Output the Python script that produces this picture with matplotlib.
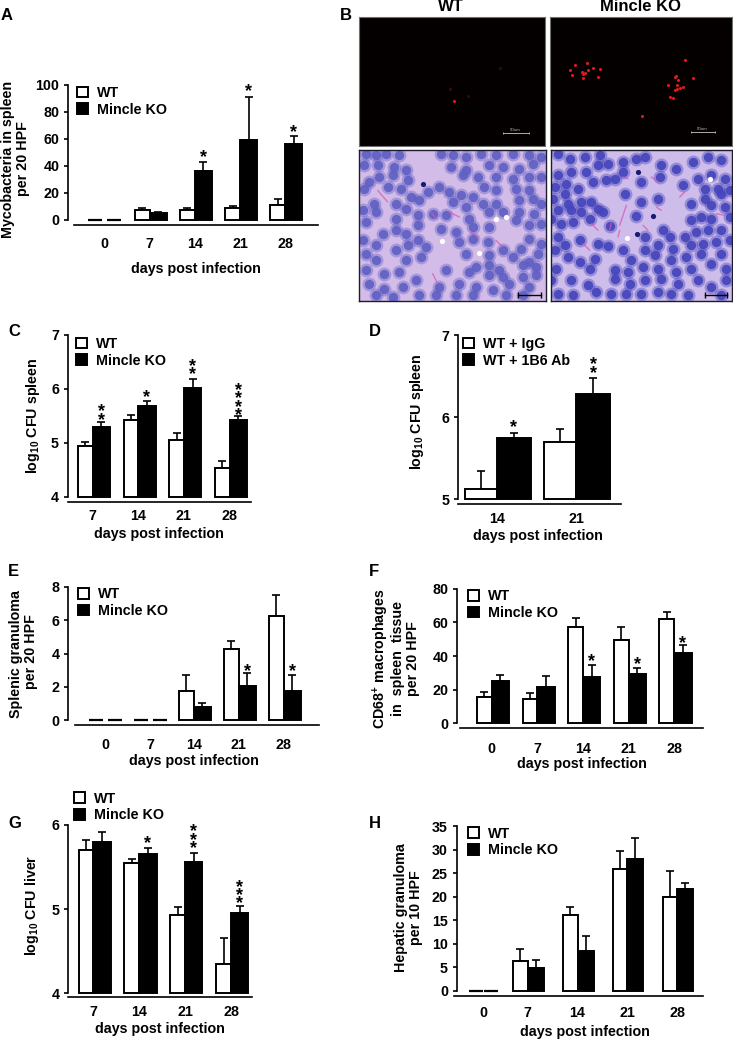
import numpy as np
import matplotlib
matplotlib.use('Agg')
import matplotlib.pyplot as pl
from matplotlib.transforms import Affine2D

W, H = 733, 1040
pl.rcParams['font.family'] = ['Liberation Sans', 'DejaVu Sans']
pl.rcParams['font.weight'] = 'bold'
pl.rcParams['mathtext.default'] = 'regular'
FS = 10.3

#---------------- values ----------------
a_days = ['0', '7', '14', '21', '28']
a_wt = [0, 7.2, 7.4, 8.7, 10.6]
a_wt_top = [0, 9, 8.7, 10, 15.3]
a_ko = [0, 5.2, 36, 59, 56.4]
a_ko_top = [0, 5.7, 42.6, 91.3, 62]
a_stars = [0, 0, 1, 1, 1]

c_days = ['7', '14', '21', '28']
c_wt = [4.94, 5.43, 5.06, 4.53]
c_wt_top = [5.01, 5.52, 5.175, 4.66]
c_ko = [5.30, 5.68, 6.02, 5.43]
c_ko_top = [5.38, 5.78, 6.18, 5.49]
c_stars = [2, 1, 2, 4]

d_days = ['14', '21']
d_wt = [5.12, 5.70]
d_wt_top = [5.34, 5.85]
d_ko = [5.75, 6.285]
d_ko_top = [5.81, 6.48]
d_stars = [1, 2]

e_days = ['0', '7', '14', '21', '28']
e_wt = [0, 0, 1.76, 4.25, 6.25]
e_wt_top = [0, 0, 2.71, 4.77, 7.52]
e_ko = [0, 0, 0.78, 2.04, 1.76]
e_ko_top = [0, 0, 1.06, 2.81, 2.71]
e_stars = [0, 0, 0, 1, 1]

f_days = ['0', '7', '14', '21', '28']
f_wt = [15.6, 14.5, 57, 49.7, 61.8]
f_wt_top = [18.4, 18.2, 62.6, 57, 66.3]
f_ko = [25.3, 21.4, 27.7, 29.5, 42]
f_ko_top = [28.9, 27.9, 34.9, 32.9, 46.3]
f_stars = [0, 0, 1, 1, 1]

g_days = ['7', '14', '21', '28']
g_wt = [5.70, 5.545, 4.935, 4.35]
g_wt_top = [5.82, 5.60, 5.03, 4.66]
g_ko = [5.80, 5.66, 5.56, 4.96]
g_ko_top = [5.92, 5.73, 5.67, 5.04]
g_stars = [0, 1, 3, 3]

h_days = ['0', '7', '14', '21', '28']
h_wt = [0, 6.3, 16.1, 25.8, 19.9]
h_wt_top = [0, 9, 17.8, 29.8, 25.5]
h_ko = [0, 4.9, 8.4, 28, 21.6]
h_ko_top = [0, 6.6, 11.7, 32.5, 23]
h_stars = [0, 0, 0, 0, 0]

#micrographs of panel B, spots picked by eye
wt_red = [(342, 303)]
wt_faint = [(385, 288), (330, 268), (480, 205)]
ko_red = [(690, 210), (705, 195), (695, 225), (725, 215), (735, 218), (745, 210), (730, 235),
          (760, 205), (780, 208), (775, 232), (742, 190), (1005, 230), (1010, 255), (1020, 265),
          (1005, 270), (990, 290), (1060, 235), (1000, 295), (905, 348), (1030, 262), (985, 255),
          (1015, 240), (1036, 180), (728, 222), (1012, 268), (1008, 228)]
wt_nuclei = [(30,20),(60,25),(90,20),(130,25),(255,20),(290,25),(330,30),(375,20),(420,25),(470,20),(520,25),(555,30),
             (25,55),(65,55),(115,60),(150,70),(285,60),(330,70),(400,55),(440,60),(490,65),(530,50),
             (70,90),(110,85),(40,105),(155,100),(250,120),(320,85),(365,90),(420,90),(470,95),(520,90),(555,90),
             (25,125),(95,120),(135,125),(215,135),(280,135),(315,145),(350,150),(385,120),(420,130),(480,125),(520,130),
             (165,150),(190,160),(55,170),(120,170),(290,165),(330,180),(380,170),(420,170),(490,160),(530,155),(555,170),
             (60,195),(20,190),(150,185),(120,215),(185,205),(230,200),(270,205),(340,215),(400,195),(440,195),(490,195),(535,200),
             (80,260),(30,225),(150,260),(185,235),(255,245),(300,255),(350,240),(400,240),(480,220),(520,235),(555,230),
             (20,280),(60,295),(120,250),(185,280),(155,295),(210,300),(310,285),(350,275),(520,275),(555,290),(395,285),
             (30,320),(120,310),(195,330),(330,320),(400,325),(440,310),(495,305),(545,320),(520,345),
             (60,340),(150,340),(360,360),(400,355),(430,370),(500,355),(540,360),(470,330),
             (130,375),(85,380),(30,370),(270,370),(340,375),(400,385),(440,390),(500,390),(540,385),
             (40,410),(85,425),(140,420),(180,400),(250,420),(310,410),(360,420),(410,430),(460,410),(520,420),
             (60,445),(110,450),(190,445),(240,445),(300,445),(350,445),(450,445),(500,445)]
ko_nuclei = [(30,20),(65,35),(110,30),(155,25),(180,50),(225,45),(265,35),(290,30),(340,55),(385,65),(435,45),(480,30),(520,40),
             (30,85),(70,75),(115,75),(150,55),(175,100),(200,95),(225,75),(135,105),(90,125),(55,110),(20,120),
             (50,140),(15,155),(100,165),(60,170),(130,165),(30,190),(70,190),(100,195),(150,185),(165,195),
             (280,105),(335,90),(405,115),(450,95),(490,85),(530,95),(470,125),(510,125),(545,130),
             (232,142),(280,165),(330,155),(430,170),(470,155),(520,140),(490,175),(530,180),
             (10,215),(75,225),(40,230),(125,215),(185,238),(265,208),(345,250),(430,220),(460,210),(490,215),(545,210),
             (95,280),(50,295),(30,270),(150,290),(180,298),(225,310),(290,270),(365,270),(410,270),(445,255),(480,250),(520,250),
             (290,310),(330,295),(375,305),(430,295),(465,290),(505,285),(545,280),
             (20,310),(60,330),(95,345),(140,335),(250,340),(320,325),(370,340),(415,330),(460,320),(520,320),
             (25,365),(125,365),(200,370),(240,375),(285,360),(330,365),(385,375),(430,365),(490,350),(535,365),
             (10,400),(70,400),(120,415),(200,395),(245,410),(290,400),(340,395),(390,410),(450,400),(490,420),(535,400),
             (30,440),(75,445),(145,435),(190,440),(235,440),(280,440),(330,435),(370,440),(420,445),(520,445)]
wt_dark = [(200, 112)]
ko_dark = [(315, 207), (270, 75), (268, 262)]
wt_holes = [(258, 283), (370, 318), (420, 215), (450, 210)]
ko_holes = [(238, 272), (485, 95)]
wt_pink = [[(65, 130), (95, 165)], [(280, 195), (310, 210)], [(225, 195), (240, 215)],
           [(345, 255), (365, 270)], [(230, 380), (245, 410)], [(420, 280), (440, 300)]]
ko_pink = [[(235, 175), (215, 235)], [(285, 235), (300, 250)], [(130, 230), (150, 250)],
           [(105, 290), (125, 310)], [(190, 225), (185, 250)], [(310, 90), (330, 105)],
           [(395, 150), (410, 135)], [(215, 250), (210, 270)], [(225, 90), (240, 95)],
           [(325, 180), (340, 190)], [(505, 200), (530, 205)]]

fig = pl.figure(figsize=(W / 100, H / 100), dpi=100)
PX = Affine2D().scale(1, -1).translate(0, H)   #image pixels, y going down


def px_axes(left, top, right, bottom):
    return fig.add_axes([left / W, 1 - bottom / H, (right - left) / W, (bottom - top) / H])


def bar_panel(days, wt, wt_top, ko, ko_top, stars, star_gap, yticks, ylabel, ylab_xy, xlab_xy,
              frame, axis_y, axis_x, c0, d, wt_w, ko_w, tick_y, leg_xy,
              labels=('WT', 'Mincle KO'), zero_shift=0, zero_gap=2.5, linesp=1.15):
    left, top, right, bottom = frame
    ax = px_axes(left, top, right, bottom)
    x = np.arange(len(days), dtype=float)
    wt, wt_top, ko, ko_top = map(np.array, (wt, wt_top, ko, ko_top))
    ymin, ymax = yticks[0], yticks[-1]
    ax.set_xlim((left - c0) / d, (right - c0) / d)
    ax.set_ylim(ymin, ymax)

    m = wt > 0
    b1 = ax.bar(x[m], wt[m] - ymin, width=-wt_w / d, align='edge', bottom=ymin, color='white',
                edgecolor='black', lw=1.4, clip_on=False, zorder=2)
    b2 = ax.bar(x[m], ko[m] - ymin, width=ko_w / d, align='edge', bottom=ymin, color='black',
                edgecolor='black', lw=1.4, clip_on=False, zorder=3)
    xw = x[m] - wt_w / d / 2
    xk = x[m] + ko_w / d / 2
    ax.errorbar(xw, wt[m], yerr=[0 * wt[m], wt_top[m] - wt[m]], fmt='none', ecolor='black',
                elinewidth=1.2, capsize=2.9, capthick=1.2, clip_on=False, zorder=1)
    ax.errorbar(xk, ko[m], yerr=[0 * ko[m], ko_top[m] - ko[m]], fmt='none', ecolor='black',
                elinewidth=1.2, capsize=2.9, capthick=1.2, clip_on=False, zorder=1)

    #days with nothing counted are only two short dashes
    tick_x = x.copy()
    for i in x[~m].astype(int):
        tick_x[i] = x[i] + zero_shift / d
        ax.hlines(ymin, tick_x[i] - (zero_gap + 14) / d, tick_x[i] - zero_gap / d, color='black', lw=1.6, clip_on=False)
        ax.hlines(ymin, tick_x[i] + zero_gap / d, tick_x[i] + (zero_gap + 14) / d, color='black', lw=1.6, clip_on=False)

    #asterisks stacked over the KO bars, one text per bar
    for i, n in enumerate(stars):
        if n > 0:
            ax.annotate('\n'.join('*' * n), (x[i] + ko_w / d / 2, ko_top[i]),
                        xytext=(0, (star_gap[i] - 10) * 0.72), textcoords='offset points',
                        ha='center', va='baseline', fontsize=13, linespacing=0.34)

    ax.spines['top'].set_visible(False)
    ax.spines['right'].set_visible(False)
    ax.spines['left'].set_linewidth(1.2)
    ax.spines['bottom'].set_linewidth(1.2)
    ax.spines['bottom'].set_position(('outward', (axis_y - bottom) * 0.72))
    ax.spines['bottom'].set_bounds((axis_x[0] - c0) / d, (axis_x[1] - c0) / d)

    ax.set_yticks(yticks)
    ax.set_xticks(tick_x)
    ax.set_xticklabels(days)
    ax.tick_params(axis='y', length=3, width=1.2, pad=3.5, labelsize=FS)
    ax.tick_params(axis='x', length=0, pad=(tick_y - 5.1 - axis_y) * 0.72, labelsize=FS)

    ax.set_ylabel(ylabel, fontsize=FS, fontweight='bold', va='center', linespacing=linesp)
    ax.yaxis.set_label_coords(ylab_xy[0], ylab_xy[1], transform=PX)
    ax.set_xlabel('days post infection', fontsize=FS, fontweight='bold', va='center')
    ax.xaxis.set_label_coords(xlab_xy[0], xlab_xy[1], transform=PX)

    ax.legend([b1, b2], labels, loc='upper left', bbox_to_anchor=leg_xy, bbox_transform=PX,
              frameon=False, fontsize=FS, borderpad=0, borderaxespad=0, handlelength=0.78,
              handleheight=0.76, handletextpad=0.62, labelspacing=0.18)
    return ax


#---------------- bar panels ----------------
bar_panel(a_days, a_wt, a_wt_top, a_ko, a_ko_top, a_stars, [0, 0, 10, 10.5, 9.5], [0, 20, 40, 60, 80, 100],
          'Mycobacteria in spleen\nper 20 HPF', (15.5, 159), (196, 268.7),
          (68.3, 85, 318.3, 219.7), 225.3, (74, 318.3), 104.3, 45.3, 15, 17, 241.7, (77, 86))

bar_panel(c_days, c_wt, c_wt_top, c_ko, c_ko_top, c_stars, [7.5, 9, 10, 6], [4, 5, 6, 7],
          'log$_{10}$ CFU spleen', (32.7, 415.5), (159.3, 534),
          (68, 335, 250.7, 496.7), 501.7, (68, 250.7), 92.7, 45.6, 14.7, 17.3, 514.3, (75.5, 337))

bar_panel(d_days, d_wt, d_wt_top, d_ko, d_ko_top, d_stars, [10.5, 10], [5, 6, 7],
          'log$_{10}$ CFU spleen', (417, 412), (537.7, 536),
          (458.3, 335, 621, 499), 503.7, (458.3, 621), 496.7, 79.7, 32, 34, 517, (463, 337),
          labels=('WT + IgG', 'WT + 1B6 Ab'))

bar_panel(e_days, e_wt, e_wt_top, e_ko, e_ko_top, e_stars, [0, 0, 0, 7.5, 9], [0, 2, 4, 6, 8],
          'Splenic granuloma \nper 20 HPF', (23.5, 652), (194, 761),
          (68.3, 586.7, 319.3, 720.3), 725, (75, 319.3), 103.7, 45, 14.5, 17, 742.7, (78, 587.5),
          zero_shift=2)

bar_panel(f_days, f_wt, f_wt_top, f_ko, f_ko_top, f_stars, [0, 0, 8, 9.3, 7], [0, 20, 40, 60, 80],
          'CD68$^{+}$ macrophages\nin  spleen  tissue\nper 20 HPF', (395, 659), (582.3, 764.3),
          (457.3, 588.7, 703.3, 723.3), 728.3, (460, 703.3), 491.7, 45.6, 14.7, 17.5, 747.3, (467.5, 589.5),
          linesp=1.05)

bar_panel(g_days, g_wt, g_wt_top, g_ko, g_ko_top, g_stars, [0, 9.3, 9.7, 7.3], [4, 5, 6],
          'log$_{10}$ CFU liver', (31.7, 905), (160, 1028.7),
          (68.3, 825, 252.3, 993.3), 997, (68.3, 252.3), 93.3, 45.9, 14.8, 17.3, 1010, (74, 791.7))

bar_panel(h_days, h_wt, h_wt_top, h_ko, h_ko_top, h_stars, [0] * 5, [0, 5, 10, 15, 20, 25, 30, 35],
          'Hepatic granuloma\nper 10 HPF', (408.5, 908), (585, 1032.3),
          (457, 826, 702.7, 991), 996, (454.3, 702.7), 477.7, 49.9, 14.5, 16, 1010.7, (467.5, 826.7),
          zero_shift=5.7, zero_gap=0.8, linesp=1.07)


#---------------- panel B micrographs ----------------
def dark_panel(rect, xlim, ylim, red, faint, bar, label_xy):
    ax = px_axes(*rect)
    ax.set_facecolor('#050000')
    ax.set_xlim(xlim)
    ax.set_ylim(ylim)
    ax.scatter(*zip(*red), s=5, color='#e01818', lw=0)
    if faint:
        ax.scatter(*zip(*faint), s=5, color='#3a0808', lw=0)
    ax.plot(bar[0], bar[1], color='#c8c8c8', lw=0.6, marker='|', ms=2, mew=0.5)
    ax.text(label_xy[0], label_xy[1], '50um', color='#b0b0b0', fontsize=3.2, ha='center', va='center', fontweight='normal')
    ax.set_xticks([])
    ax.set_yticks([])
    for s in ax.spines.values():
        s.set_color('#707070')
        s.set_linewidth(0.8)


def stain_panel(rect, xlim, ylim, bg, col, nuclei, dark, holes, pink, bar):
    ax = px_axes(*rect)
    ax.set_facecolor(bg)
    ax.set_xlim(xlim)
    ax.set_ylim(ylim)
    nx, ny = zip(*nuclei)
    ax.scatter(nx, ny, s=100, color=col, alpha=0.4, lw=0)
    ax.scatter(nx, ny, s=45, color=col, alpha=0.9, lw=0)
    ax.scatter(*zip(*holes), s=14, color='white', lw=0)
    ax.scatter(*zip(*dark), s=14, color='#1a1a70', lw=0)
    for seg in pink:
        ax.plot(*zip(*seg), color='#e050b0', lw=1.0, alpha=0.7, solid_capstyle='round')
    ax.plot(bar[0], bar[1], color='black', lw=1.0, marker='|', ms=5, mew=1.0)
    ax.set_xticks([])
    ax.set_yticks([])
    for s in ax.spines.values():
        s.set_color('#1c1c2c')
        s.set_linewidth(1.0)


dark_panel((359, 17.3, 545, 146), (57, 615), (438, 52), wt_red, wt_faint, ([490, 566], [400, 400]), (527, 391))
dark_panel((550, 17.3, 732.3, 146), (630, 1177), (438, 52), ko_red, [], ([1052, 1126], [397, 397]), (1088, 388))
stain_panel((358.7, 149.7, 546, 301), (8, 570), (462, 8), '#d4bce8', '#6060c4', wt_nuclei, wt_dark,
            wt_holes, wt_pink, ([487, 556], [443, 443]))
stain_panel((550.7, 149.7, 732, 301), (8, 552), (462, 8), '#cebcea', '#4444bc', ko_nuclei, ko_dark,
            ko_holes, ko_pink, ([470, 538], [443, 443]))

#---------------- headers and panel letters ----------------
for s, xp in zip(['WT', 'Mincle KO'], [451, 640.7]):
    fig.text(xp / W, 1 - 6.5 / H, s, fontsize=12, ha='center', va='center')
letters = ['A', 'B', 'C', 'D', 'E', 'F', 'G', 'H']
letter_x = [1, 340, 8, 369, 8, 369, 8, 369]
letter_y = [16, 16, 331, 331, 571, 571, 823, 823]
for s, xp, yp in zip(letters, letter_x, letter_y):
    fig.text(xp / W, 1 - yp / H, s, fontsize=12, ha='left', va='center')

fig.savefig('out.png', dpi=100)
